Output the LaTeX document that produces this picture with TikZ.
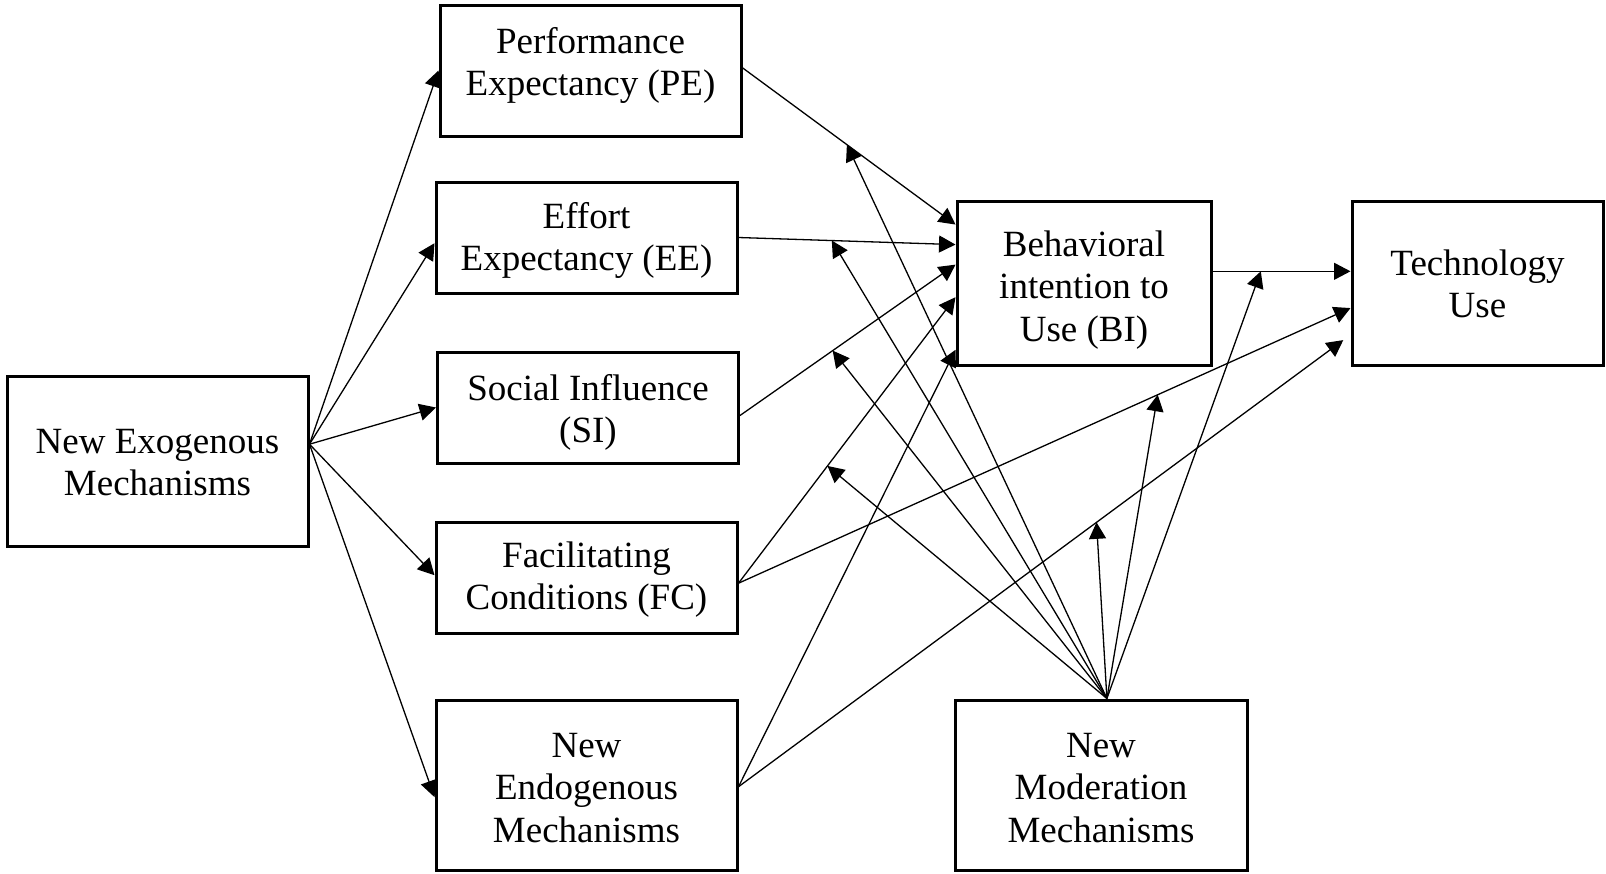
\documentclass[tikz,border=0pt]{standalone}
\usepackage{fontspec}
\setmainfont{Liberation Serif}
\usetikzlibrary{arrows.meta,calc}
\begin{document}
\begin{tikzpicture}[x=1pt,y=-1pt,
  box/.style={draw, line width=3pt, inner sep=0pt},
  txt/.style={inner sep=0pt, align=center, font=\fontsize{37}{42.5}\selectfont},
  link/.style={line width=1.3pt, -{Triangle[length=16.5pt,width=17pt]}}]
\useasboundingbox (0,0) rectangle (1606,873);

% construct boxes
\node[box, minimum width=301, minimum height=170] (NEM) at (157.5,461.5) {};
\node[box, minimum width=301, minimum height=131] (PE) at (590.5,70.5) {};
\node[box, minimum width=301, minimum height=111] (EE) at (586.5,237.5) {};
\node[box, minimum width=301, minimum height=111] (SI) at (588,407.5) {};
\node[box, minimum width=301, minimum height=111] (FC) at (586.5,577.5) {};
\node[box, minimum width=301, minimum height=170] (NEndo) at (586.5,785) {};
\node[box, minimum width=254, minimum height=164] (BI) at (1084,283) {};
\node[box, minimum width=251, minimum height=164] (TU) at (1477.5,283) {};
\node[box, minimum width=292, minimum height=170] (NMod) at (1101,785) {};

% construct names
\node[txt] (NEMt) at ($(NEM.center)+(0,1)$) {New Exogenous\\Mechanisms};
\node[txt] (PEt) at ($(PE.center)+(0,-5)$) {Performance\\Expectancy (PE)};
\node[txt] (EEt) at ($(EE.center)+(0,3)$) {Effort\\Expectancy (EE)};
\node[txt] (SIt) at ($(SI.center)+(0,5)$) {Social Influence\\(SI)};
\node[txt] (FCt) at ($(FC.center)+(0,2)$) {Facilitating\\Conditions (FC)};
\node[txt] (NEndot) at ($(NEndo.center)+(0,3)$) {New\\Endogenous\\Mechanisms};
\node[txt] (BIt) at ($(BI.center)+(0,7)$) {Behavioral\\intention to\\Use (BI)};
\node[txt] (TUt) at ($(TU.center)+(0,1)$) {Technology\\Use};
\node[txt] (NModt) at ($(NMod.center)+(0,3)$) {New\\Moderation\\Mechanisms};

% exogenous mechanisms feed the predictors
\coordinate (exo) at ($(NEM.north east)!0.4!(NEM.south east)$);
\draw[link] (exo) -- (PE.west);
\draw[link] (exo) -- ($(EE.north west)!0.55!(EE.south west)$);
\draw[link] (exo) -- (SI.west);
\draw[link] (exo) -- ($(FC.north west)!0.48!(FC.south west)$);
\draw[link] (exo) -- ($(NEndo.north west)!0.57!(NEndo.south west)$);

% predictors of behavioral intention
\draw[link] ($(PE.north east)!0.48!(PE.south east)$) -- coordinate[pos=0.49] (mPE)
  ($(BI.north west)!0.15!(BI.south west)$);
\draw[link] (EE.east) -- coordinate[pos=0.43] (mEE)
  ($(BI.north west)!0.27!(BI.south west)$);
\draw[link] ($(SI.north east)!0.57!(SI.south east)$) -- coordinate[pos=0.43] (mSI)
  ($(BI.north west)!0.39!(BI.south west)$);
\coordinate (fcout) at ($(FC.north east)!0.55!(FC.south east)$);
\draw[link] (fcout) -- coordinate[pos=0.41] (mFC)
  ($(BI.north west)!0.585!(BI.south west)$);
\coordinate (endout) at ($(NEndo.north east)!0.51!(NEndo.south east)$);
\draw[link] (endout) -- ($(BI.north west)!0.9!(BI.south west)$);

% predictors of technology use
\draw[link] ($(BI.north east)!0.43!(BI.south east)$) -- coordinate[pos=0.35] (mBT)
  ($(TU.north west)!0.43!(TU.south west)$);
\draw[link] (fcout) -- coordinate[pos=0.685] (mFT)
  ($(TU.north west)!0.65!(TU.south west)$);
\draw[link, shorten >=9pt] (endout) -- coordinate[pos=0.585] (mNT)
  ($(TU.north west)!0.81!(TU.south west)$);

% moderation paths
\coordinate (apex) at ($(NMod.north west)!0.52!(NMod.north east)$);
\foreach \m in {mPE,mEE,mSI,mFC,mBT,mFT,mNT}
  \draw[link] (apex) -- (\m);
\end{tikzpicture}
\end{document}
